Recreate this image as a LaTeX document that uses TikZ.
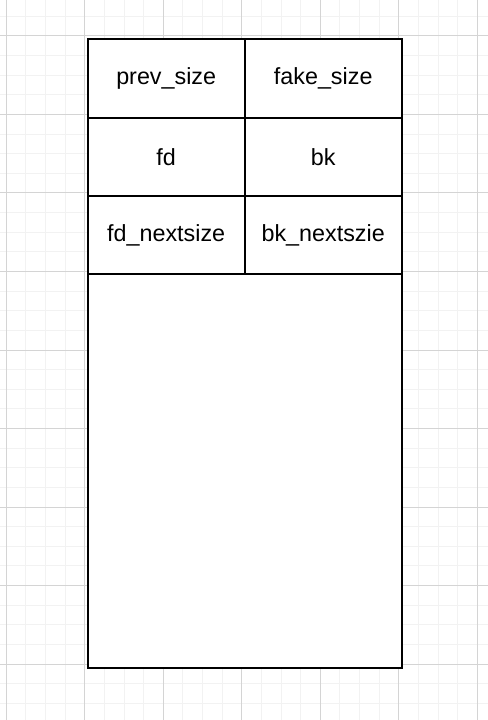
\documentclass[tikz,border=0pt]{standalone}
\usepackage{fontspec}
\setmainfont{Liberation Sans}
\begin{document}
\begin{tikzpicture}[x=0.75pt,y=-0.75pt,
  cell/.style={draw=black,line width=1.5pt,fill=white,minimum width=117.75pt,minimum height=58.7pt,inner sep=0pt,anchor=north west,font=\fontsize{17.5pt}{20pt}\selectfont},
  minorgrid/.style={draw={rgb,255:red,242;green,242;blue,242},line width=0.75pt},
  majorgrid/.style={draw={rgb,255:red,212;green,212;blue,212},line width=0.75pt}]
\useasboundingbox (0,0) rectangle (488,720);
\fill[white] (0,0) rectangle (488,720);
% grid
\foreach \i in {-1,...,25} {
  \draw[minorgrid] ({6.3+19.625*\i},0) -- ({6.3+19.625*\i},720);
}
\foreach \i in {-2,...,37} {
  \draw[minorgrid] (0,{36+19.625*\i}) -- (488,{36+19.625*\i});
}
\foreach \i in {0,...,6} {
  \draw[majorgrid] ({6.3+78.5*\i},0) -- ({6.3+78.5*\i},720);
}
\foreach \i in {0,...,8} {
  \draw[majorgrid] (0,{36+78.5*\i}) -- (488,{36+78.5*\i});
}
% cells
\node[cell] (a1) at (86.7,38.3) {prev\_size};
\node[cell] (a2) at (243.7,38.3) {fake\_size};
\node[cell] (b1) at (86.7,116.6) {fd};
\node[cell] (b2) at (243.7,116.6) {bk};
\node[cell] (c1) at (86.7,194.9) {fd\_nextsize};
\node[cell] (c2) at (243.7,194.9) {bk\_nextszie};
\node[cell,minimum width=235.5pt,minimum height=295.1pt] (rest) at (86.7,273.2) {};
\end{tikzpicture}
\end{document}
